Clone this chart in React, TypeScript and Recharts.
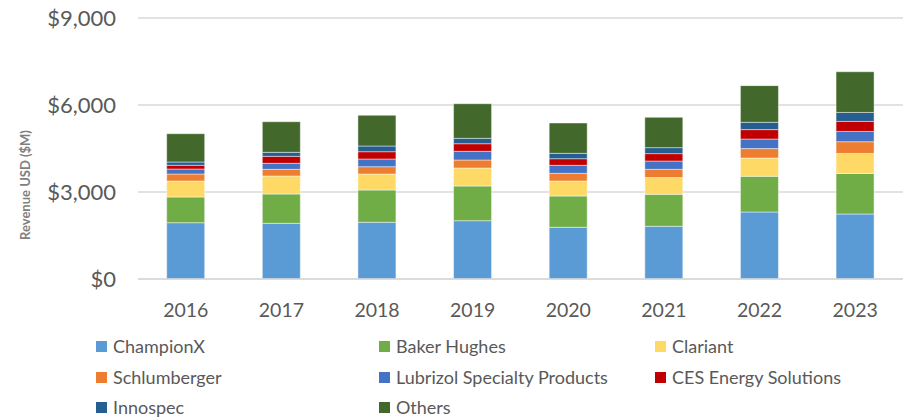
import React from 'react';
import { BarChart, Bar, XAxis, YAxis, CartesianGrid, Legend } from 'recharts';

const years = ['2016', '2017', '2018', '2019', '2020', '2021', '2022', '2023'];
const championX = [1941, 1920, 1955, 2010, 1783, 1817, 2310, 2241];
const bakerHughes = [886, 1011, 1114, 1196, 1079, 1103, 1231, 1400];
const clariant = [552, 621, 552, 621, 517, 576, 631, 690];
const schlumberger = [241, 230, 252, 276, 265, 286, 324, 403];
const lubrizol = [172, 207, 265, 300, 276, 286, 331, 355];
const cesEnergy = [128, 241, 252, 262, 228, 255, 324, 345];
const innospec = [114, 138, 196, 186, 186, 207, 252, 310];
const others = [976, 1055, 1058, 1193, 1045, 1045, 1265, 1403];
const yTicks = [0, 3000, 6000, 9000];

const seriesNames = [
  'ChampionX',
  'Baker Hughes',
  'Clariant',
  'Schlumberger',
  'Lubrizol Specialty Products',
  'CES Energy Solutions',
  'Innospec',
  'Others',
];
const seriesValues = [championX, bakerHughes, clariant, schlumberger, lubrizol, cesEnergy, innospec, others];
const seriesColors = ['#5B9BD5', '#70AD47', '#FFD966', '#ED7D31', '#4472C4', '#C00000', '#255E91', '#43682B'];

const data = years.map((y, i) => {
  const row: Record<string, string | number> = { year: y };
  seriesNames.forEach((n, j) => {
    row[n] = seriesValues[j][i];
  });
  return row;
});

const FONT = 'Lato, "Noto Sans", sans-serif';
const legendCols = [96, 379, 655];
const legendRows = [27, 58, 88];

const renderLegend = () => (
  <div style={{ position: 'relative', width: 904, height: 100, fontFamily: FONT }}>
    {seriesNames.map((n, i) => {
      const col = i % 3;
      const row = Math.floor(i / 3);
      return (
        <div
          key={n}
          style={{
            position: 'absolute',
            left: legendCols[col],
            top: legendRows[row] - 12,
            height: 24,
            display: 'flex',
            alignItems: 'center',
            whiteSpace: 'nowrap',
          }}
        >
          <span style={{ display: 'inline-block', width: 11, height: 11, background: seriesColors[i], marginRight: 6 }} />
          <span style={{ fontSize: 18, color: '#595959' }}>{n}</span>
        </div>
      );
    })}
  </div>
);

const YLabel = (props: any) => {
  const cx = 25;
  const cy = 185;
  return (
    <text
      x={cx}
      y={cy}
      transform={`rotate(-90 ${cx} ${cy})`}
      textAnchor="middle"
      dominantBaseline="central"
      fontFamily={FONT}
      fontSize={13}
      fontWeight={700}
      fill="#7F7F7F"
    >
      Revenue USD ($M)
    </text>
  );
};

export default function App() {
  return (
    <div style={{ position: 'absolute', left: 0, top: 0, width: 904, height: 419, background: '#fff' }}>
      <BarChart
        width={904}
        height={419}
        data={data}
        margin={{ top: 18, right: 1, bottom: 0, left: 0 }}
        barCategoryGap="30%"
      >
        <CartesianGrid vertical={false} stroke="#D9D9D9" strokeWidth={1.5} />
        <XAxis
          dataKey="year"
          height={40}
          axisLine={{ stroke: '#D9D9D9', strokeWidth: 1.5 }}
          tickLine={false}
          tickSize={0}
          tickMargin={24}
          tick={{ fontFamily: FONT, fontSize: 19.5, fill: '#595959' }}
        />
        <YAxis
          width={138}
          domain={[0, 9000]}
          ticks={yTicks}
          axisLine={false}
          tickLine={false}
          tickSize={0}
          tickMargin={22}
          tickFormatter={(v: number) => '$' + v.toLocaleString('en-US')}
          tick={{ fontFamily: FONT, fontSize: 22, fill: '#595959' }}
          label={<YLabel />}
        />
        <Legend
          content={renderLegend}
          verticalAlign="bottom"
          wrapperStyle={{ left: 0, bottom: 0, width: 904, height: 100 }}
        />
        {seriesNames.map((n, i) => (
          <Bar
            key={n}
            dataKey={n}
            stackId="a"
            fill={seriesColors[i]}
            stroke="#ffffff"
            strokeOpacity={0.45}
            strokeWidth={1}
            isAnimationActive={false}
          />
        ))}
      </BarChart>
    </div>
  );
}
